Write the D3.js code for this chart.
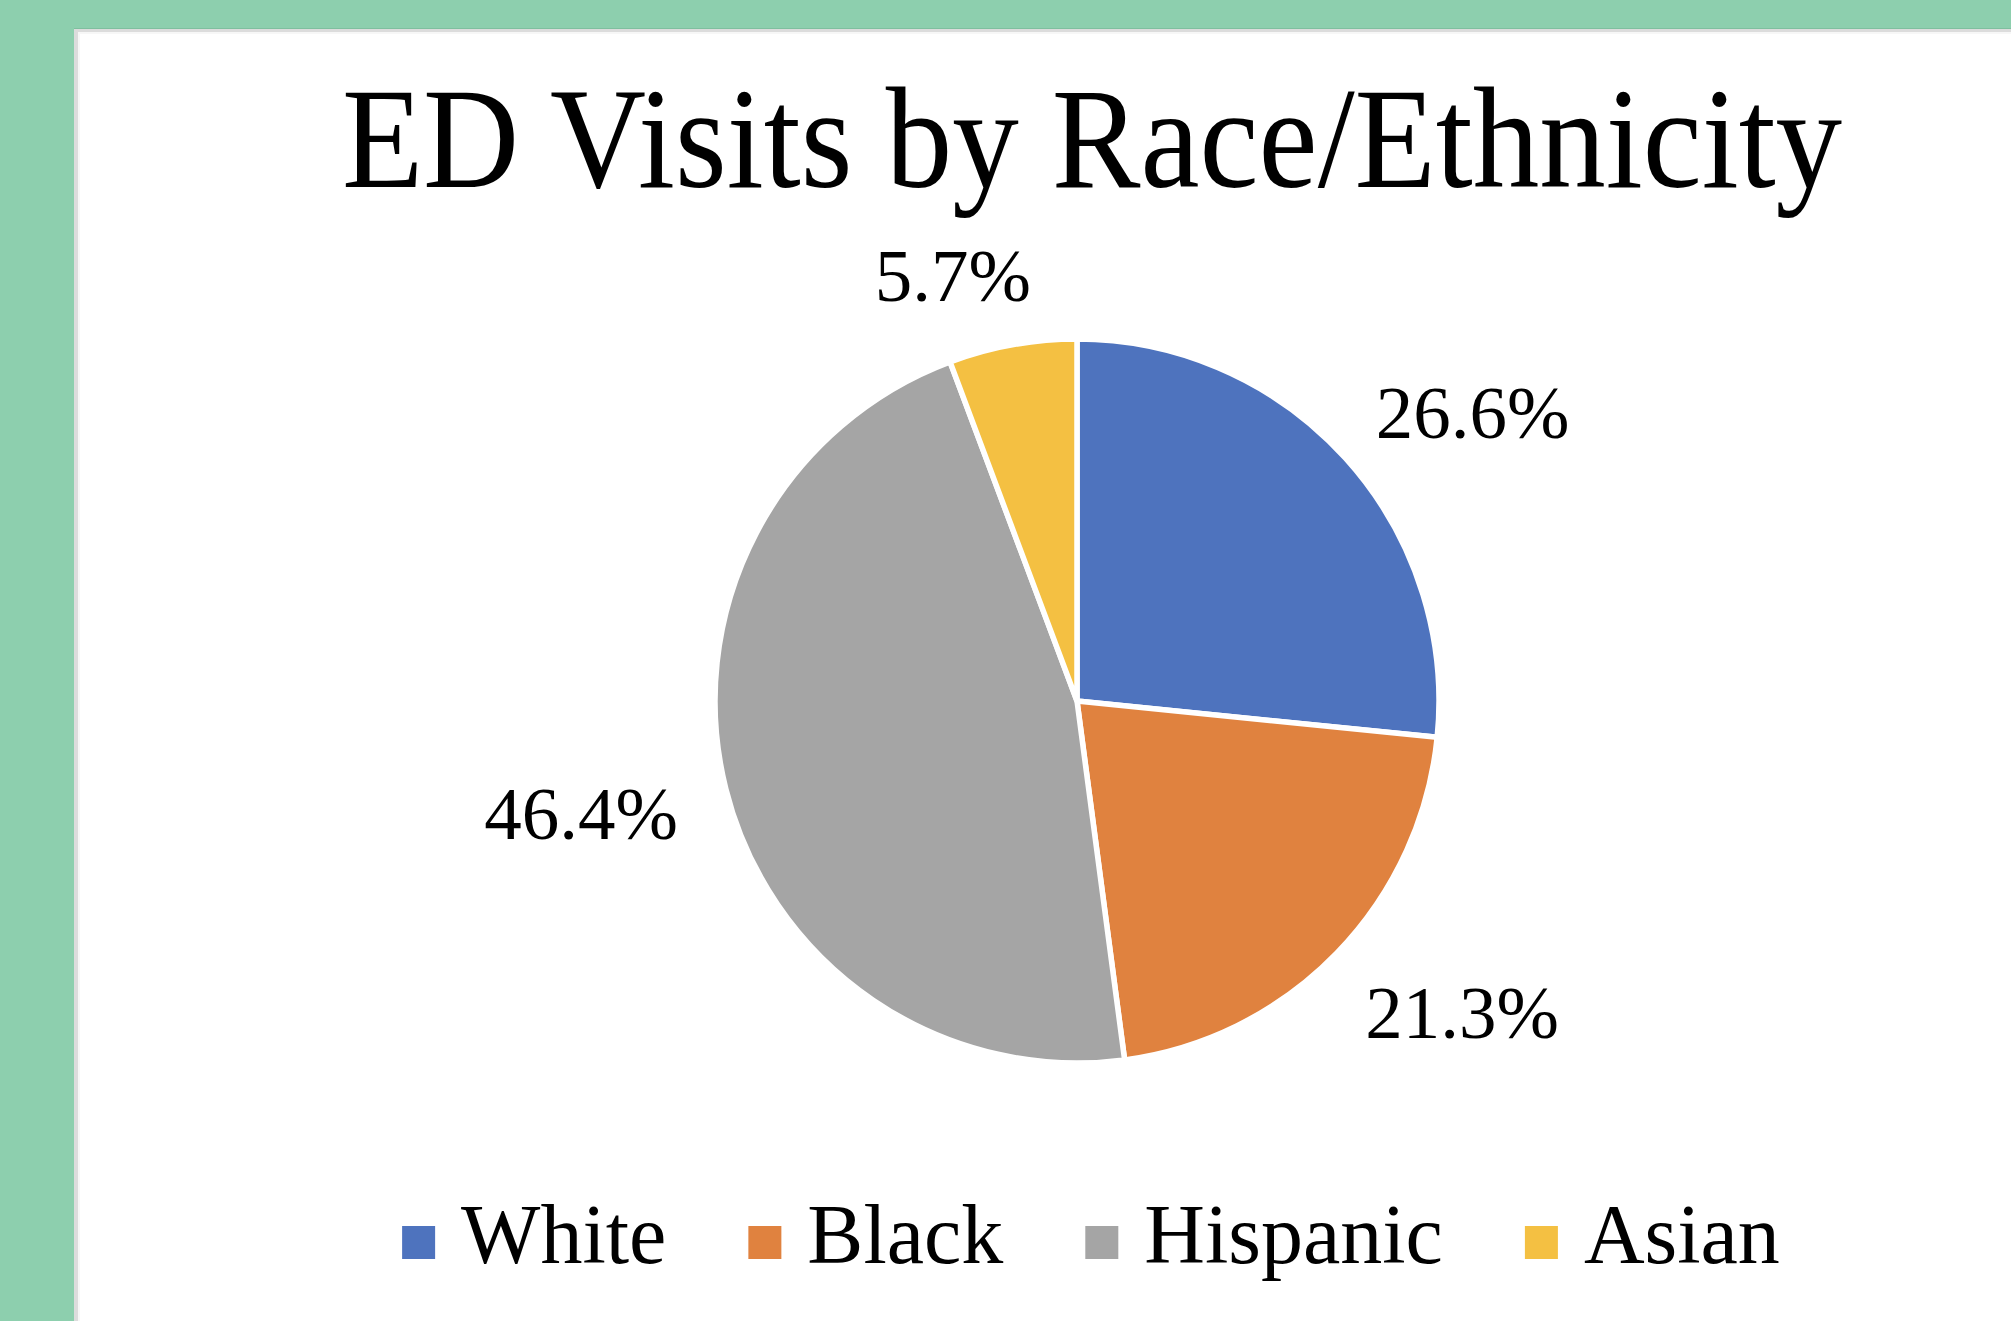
<!DOCTYPE html>
<html>
<head>
<meta charset="utf-8">
<script src="https://cdn.jsdelivr.net/npm/d3@7"></script>
<style>
  html, body { margin: 0; padding: 0; background: #8dcfae; overflow: hidden; }
  svg { display: block; }
  text { font-family: "Liberation Serif", "Times New Roman", serif; fill: #000; }
</style>
</head>
<body>
<svg id="chart" width="2011" height="1321"></svg>
<script>
// ---- data ----
const categories = ["White", "Black", "Hispanic", "Asian"];
const values = [26.6, 21.3, 46.4, 5.7];
const labels = ["26.6%", "21.3%", "46.4%", "5.7%"];
const colors = ["#4e73be", "#e0823f", "#a5a5a5", "#f4c042"];
const title = "ED Visits by Race/Ethnicity";

// ---- layout ----
const W = 2011, H = 1321;
const svg = d3.select("#chart");

// page background & panel
svg.append("rect").attr("x", 0).attr("y", 0).attr("width", W).attr("height", H).attr("fill", "#8dcfae");
svg.append("rect").attr("x", 74).attr("y", 28).attr("width", W - 74).attr("height", 1).attr("fill", "#7fbf9f");
svg.append("rect").attr("x", 74).attr("y", 29).attr("width", W - 74).attr("height", H - 29).attr("fill", "#dcdcdc");
svg.append("rect").attr("x", 78).attr("y", 32).attr("width", W - 78).attr("height", H - 32).attr("fill", "#f7f7f7");
svg.append("rect").attr("x", 80).attr("y", 34).attr("width", W - 80).attr("height", H - 34).attr("fill", "#ffffff");

// title
svg.append("text")
  .attr("transform", "translate(1092,187) scale(1,1.08)")
  .attr("text-anchor", "middle")
  .style("font-size", "133px")
  .text(title);

// pie
const cx = 1077, cy = 701, R = 362;
const color = d3.scaleOrdinal().domain(categories).range(colors);
const pie = d3.pie().sort(null).value(d => d.value);
const data = categories.map((c, i) => ({ cat: c, value: values[i], label: labels[i] }));
const arcs = pie(data);
const arc = d3.arc().innerRadius(0).outerRadius(R);

const g = svg.append("g").attr("transform", `translate(${cx},${cy})`);
g.selectAll("path.slice")
  .data(arcs)
  .join("path")
  .attr("class", "slice")
  .attr("d", arc)
  .attr("fill", d => color(d.data.cat))
  .attr("stroke", "#ffffff")
  .attr("stroke-width", 5.5)
  .attr("stroke-linejoin", "round");

// data labels (outside end, box placed beyond the edge along the mid angle)
const labelFont = 75;
const gap = 50;
const lbl = g.selectAll("text.lbl")
  .data(arcs)
  .join("text")
  .attr("class", "lbl")
  .attr("text-anchor", "middle")
  .style("font-size", labelFont + "px")
  .text(d => d.data.label);

lbl.each(function(d) {
  const t = d3.select(this);
  const w = this.getComputedTextLength();
  const h = labelFont * 0.72;
  const a = (d.startAngle + d.endAngle) / 2;
  const dx = Math.sin(a), dy = -Math.cos(a);
  const px = dx * (R + gap) + Math.sign(dx) * Math.pow(Math.abs(dx), 0.25) * w / 2;
  const py = dy * (R + gap) + dy * h / 2 + 6;
  t.attr("x", px).attr("y", py + labelFont * 0.34);
});

// legend
const legFont = 84, sq = 33, sqGap = 26, itemGap = 82;
const legY = 1263;
const leg = svg.append("g");
const items = leg.selectAll("g.item").data(categories).join("g").attr("class", "item");
items.append("rect")
  .attr("width", sq).attr("height", sq)
  .attr("y", legY - 37)
  .attr("fill", d => color(d));
items.append("text")
  .attr("x", sq + sqGap).attr("y", legY)
  .style("font-size", legFont + "px")
  .text(d => d);

let widths = [];
items.each(function() {
  widths.push(sq + sqGap + d3.select(this).select("text").node().getComputedTextLength());
});
const total = d3.sum(widths) + itemGap * (widths.length - 1);
let xpos = 1091 - total / 2;
items.each(function(d, i) {
  d3.select(this).attr("transform", `translate(${xpos},0)`);
  xpos += widths[i] + itemGap;
});
</script>
</body>
</html>
